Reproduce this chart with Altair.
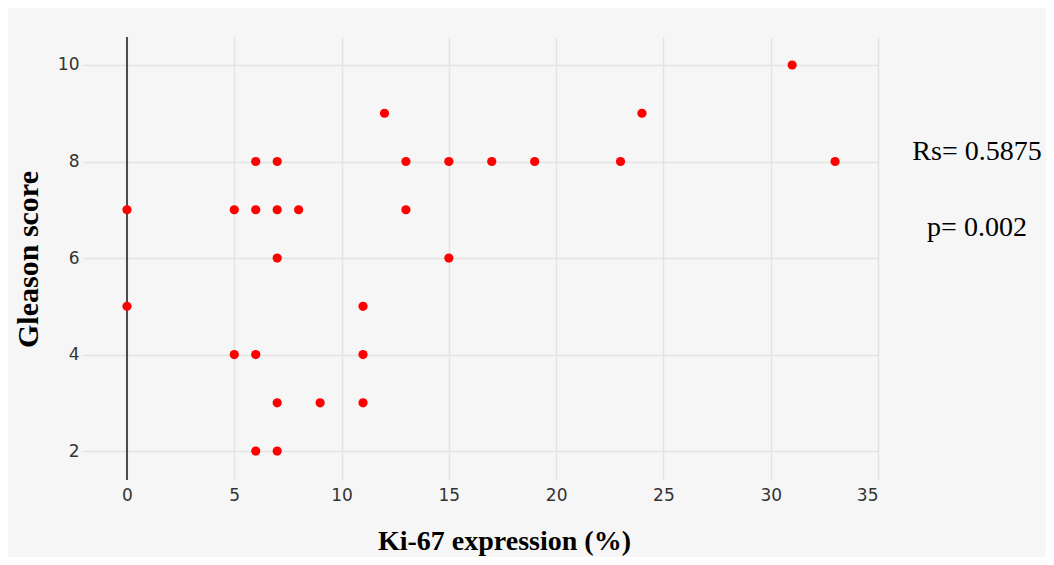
import altair as alt
import pandas as pd

ki67 = [0, 0, 5, 5, 6, 6, 6, 6, 7, 7, 7, 7, 7, 8, 9, 11, 11, 11, 12, 13, 13, 15, 15, 17, 19, 23, 24, 31, 33]
gleason = [7, 5, 7, 4, 8, 7, 4, 2, 8, 7, 6, 3, 2, 7, 3, 5, 4, 3, 9, 8, 7, 8, 6, 8, 8, 8, 9, 10, 8]
x_ticks = [0, 5, 10, 15, 20, 25, 30, 35]
y_ticks = [2, 4, 6, 8, 10]
stats_text = ["Rs= 0.5875", "p= 0.002"]

df = pd.DataFrame({"ki67": ki67, "gleason": gleason})

x_scale = alt.Scale(domain=[-2.05, 35], nice=False, zero=False)
y_scale = alt.Scale(domain=[1.4, 10.58], nice=False, zero=False)

x_axis = alt.Axis(
    values=x_ticks, title="Ki-67 expression (%)", grid=True, gridColor="#e3e3e3", gridWidth=1.5,
    domain=False, ticks=False, labelPadding=7, labelFont="DejaVu Sans", labelFontSize=17,
    labelColor="#333333", titleFont="Liberation Serif", titleFontSize=28, titleFontWeight="bold",
    titleColor="#000000", titleX=421, titleY=69, titleAlign="center", titleBaseline="alphabetic",
)
y_axis = alt.Axis(
    values=y_ticks, title="Gleason score", grid=True, gridColor="#e3e3e3", gridWidth=1.5,
    domain=False, ticks=False, labelPadding=4, labelFont="DejaVu Sans", labelFontSize=17,
    labelColor="#333333", titleFont="Liberation Serif", titleFontSize=30, titleFontWeight="bold",
    titleColor="#000000", titleX=-55, titleY=222, titleAlign="center", titleBaseline="middle",
    titleAngle=270,
)

points = alt.Chart(df).mark_circle(size=85, color="#ff0000", opacity=1).encode(
    x=alt.X("ki67:Q", scale=x_scale, axis=x_axis),
    y=alt.Y("gleason:Q", scale=y_scale, axis=y_axis),
)

zero_line = alt.Chart(pd.DataFrame({"x": [0]})).mark_rule(color="#4a4a4a", strokeWidth=2).encode(
    x=alt.X("x:Q", scale=x_scale)
)

stats = alt.Chart(pd.DataFrame({"t": stats_text, "py": [123, 199]})).mark_text(
    font="Liberation Serif", fontSize=28, color="#000000", align="center", baseline="alphabetic"
).encode(
    x=alt.value(894),
    y=alt.Y("py:Q", scale=None),
    text="t:N",
)

chart = alt.layer(zero_line, points, stats).properties(
    width=795, height=443,
    background="#f6f6f6",
    autosize=alt.AutoSizeParams(type="none"),
    padding={"left": 75, "top": 29, "right": 168, "bottom": 77},
).configure_view(stroke=None, fill="#f6f6f6")

chart.save("out.html", embed_options={"renderer": "svg", "actions": False})
